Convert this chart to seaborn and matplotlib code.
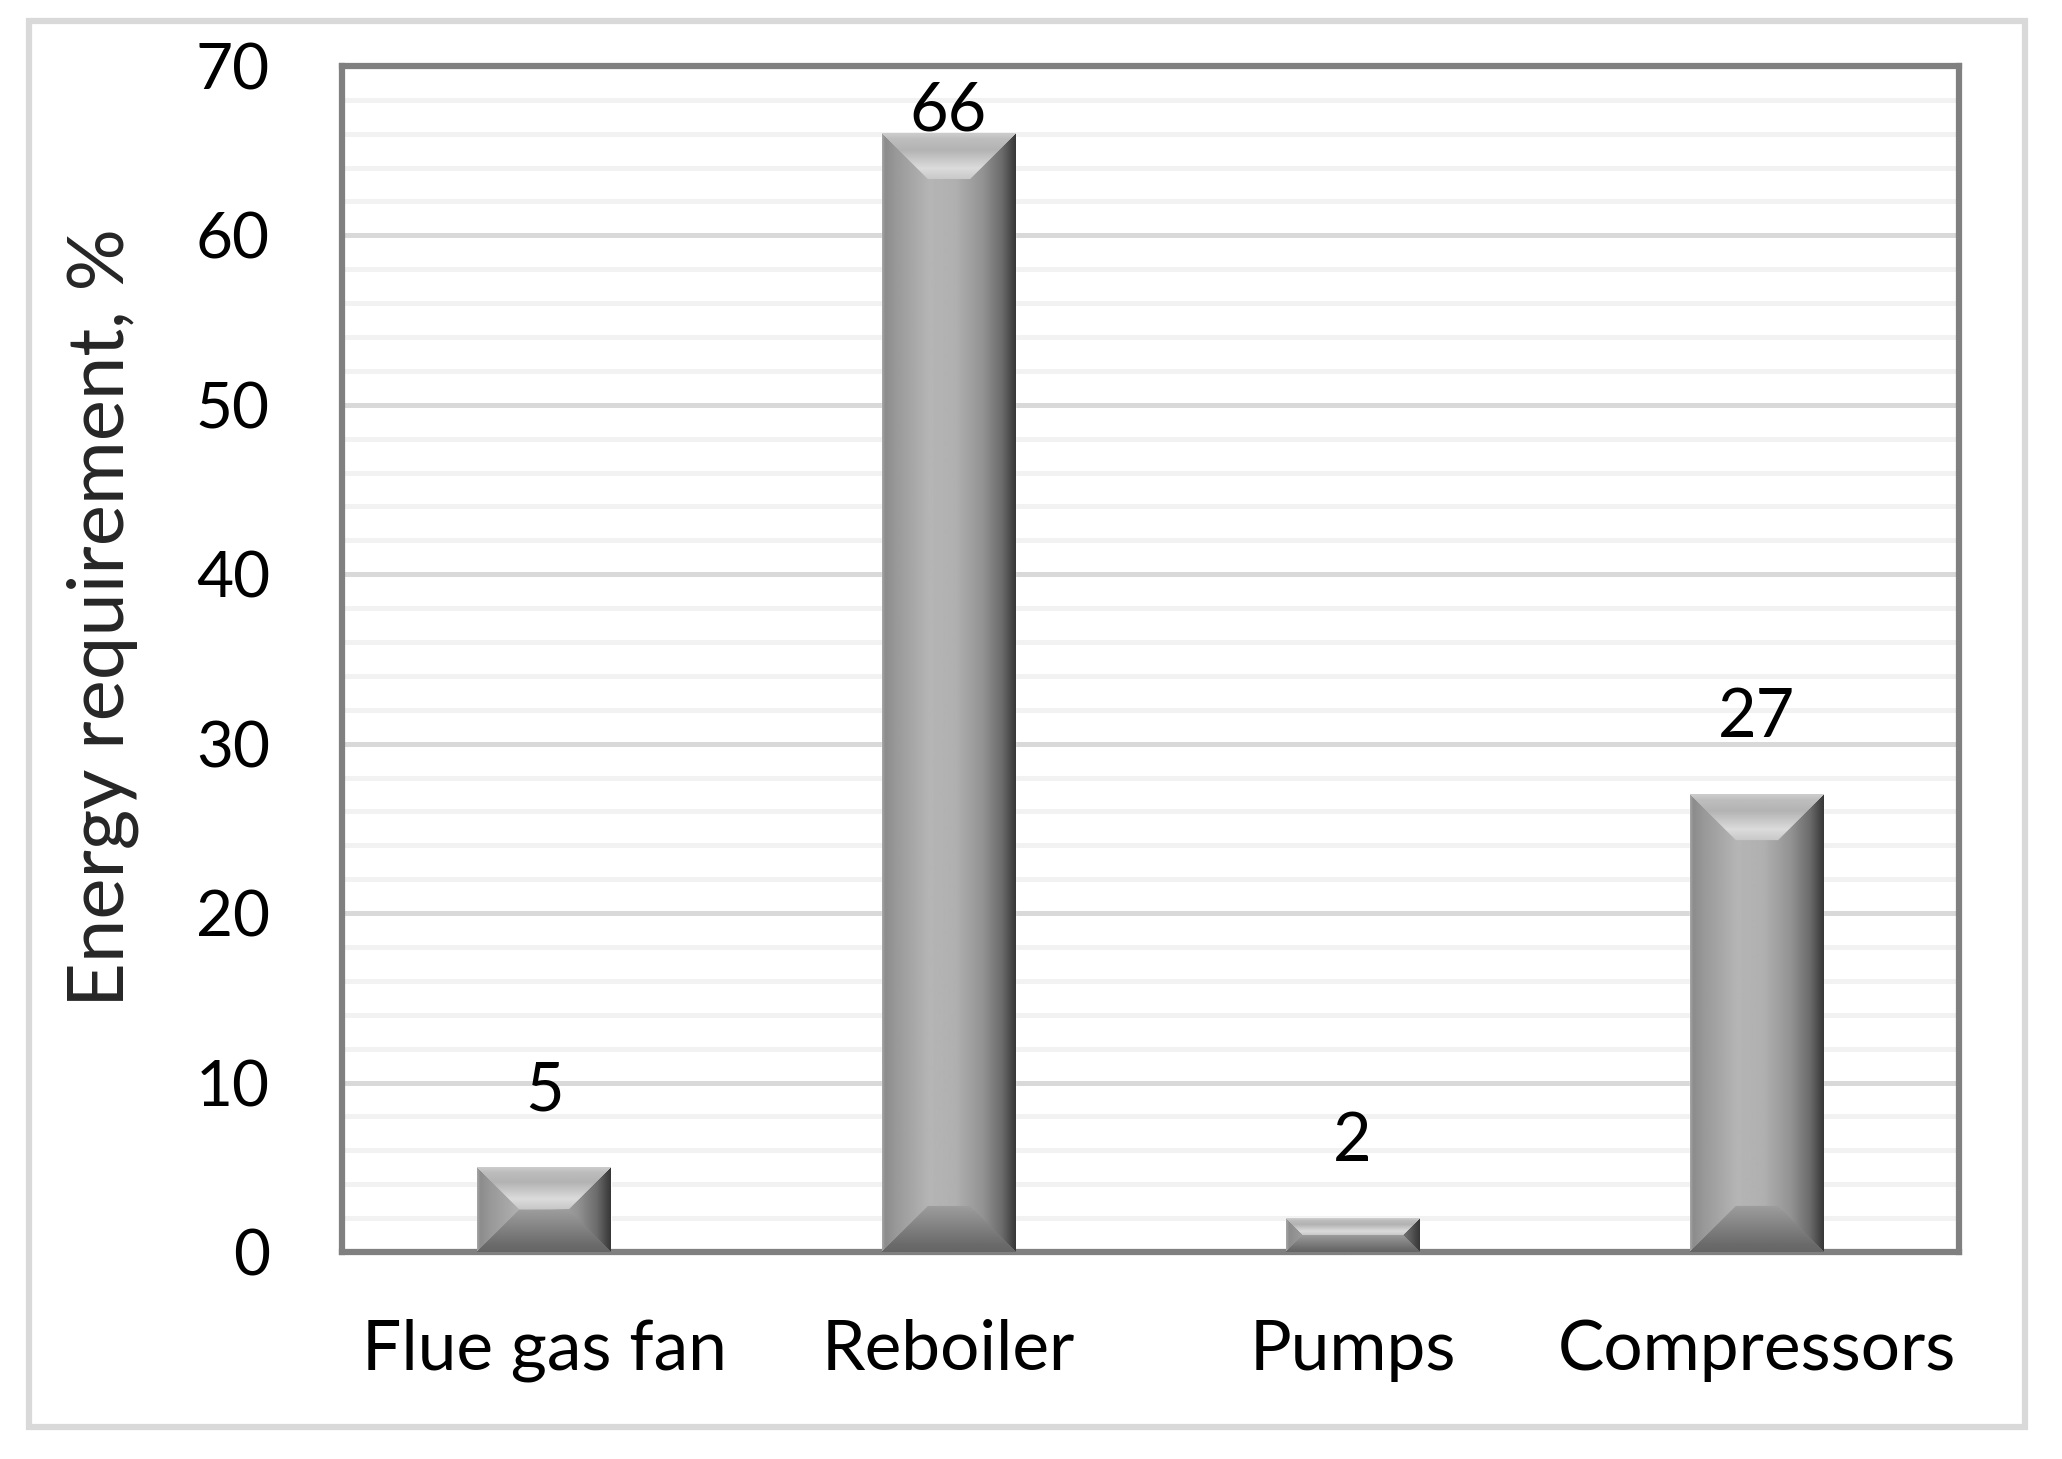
import numpy as np
import pandas as pd
import matplotlib
matplotlib.use("Agg")
import matplotlib.pyplot as plt
import seaborn as sns
from matplotlib.patches import Rectangle
from matplotlib.ticker import MultipleLocator

# Données du graphique
categories = ["Flue gas fan", "Reboiler", "Pumps", "Compressors"]
energy_share = [5, 66, 2, 27]
y_label = "Energy requirement, %"

df = pd.DataFrame({"item": categories, "share": energy_share})

sns.set_theme(style="white")
plt.rcParams["font.family"] = ["Lato", "DejaVu Sans"]

fig = plt.figure(figsize=(20.62, 14.59), dpi=100)
ax = fig.add_axes([0.1659, 0.1419, 0.950 - 0.1659, 0.9548 - 0.1419])

sns.barplot(data=df, x="item", y="share", color="#a8a8a8", width=0.33,
            saturation=1, ax=ax, zorder=2)

ax.set_ylim(0, 70)
ax.set_xlim(-0.5, len(categories) - 0.5)
ax.yaxis.set_major_locator(MultipleLocator(10))
ax.yaxis.set_minor_locator(MultipleLocator(2))
ax.set_axisbelow(True)
ax.grid(which="minor", axis="y", color="#f2f2f2", linewidth=3.6)
ax.grid(which="major", axis="y", color="#d9d9d9", linewidth=3.6)

for s in ax.spines.values():
    s.set_color("#808080")
    s.set_linewidth(4.5)
    s.set_visible(True)

ax.tick_params(axis="both", which="both", length=0, colors="black")
ax.tick_params(axis="y", labelsize=46, pad=52)
ax.tick_params(axis="x", labelsize=50, pad=48)
ax.set_xlabel("")
ax.set_ylabel(y_label, fontsize=56, va="center")
ax.yaxis.set_label_coords(-0.148, 0.535)


# Effet biseau façon Excel sur chaque barre
def bevel_image(h, w, bev=46):
    b = max(1, min(bev, h // 2, w // 2))
    t = np.linspace(0, 1, w)
    base = np.interp(t, [0, 0.02, 0.1, 0.35, 0.55, 0.75, 0.9, 0.96, 1.0],
                     [0.64, 0.55, 0.60, 0.71, 0.69, 0.58, 0.42, 0.30, 0.22])
    img = np.tile(base, (h, 1))
    ii, jj = np.mgrid[0:h, 0:w]
    dt, db = ii, h - 1 - ii
    dl, dr = jj, w - 1 - jj
    dmin = np.minimum(np.minimum(dt, db), np.minimum(dl, dr))
    edge = dmin < b
    top = edge & (dt == dmin)
    bot = edge & (db == dmin) & ~top
    u = dt / b
    img[top] = np.interp(u[top], [0, 0.12, 0.35, 0.75, 1.0], [0.80, 0.74, 0.70, 0.86, 0.78])
    v = db / b
    img[bot] = np.interp(v[bot], [0, 0.15, 1.0], [0.40, 0.42, 0.62])
    return np.clip(img, 0, 1)


fig.canvas.draw()
for p in list(ax.patches):
    x0, w, hgt = p.get_x(), p.get_width(), p.get_height()
    (px0, py0), (px1, py1) = ax.transData.transform([(x0, 0), (x0 + w, hgt)])
    wp, hp = int(round(px1 - px0)), int(round(py1 - py0))
    img = bevel_image(max(hp, 2), max(wp, 2))
    ax.imshow(img, cmap="gray", vmin=0, vmax=1, extent=(x0, x0 + w, 0, hgt),
              aspect="auto", zorder=3, interpolation="bilinear")

ax.set_xlim(-0.5, len(categories) - 0.5)
ax.set_ylim(0, 70)

# Étiquettes de valeurs (restent dans la zone de tracé)
for i, v in enumerate(energy_share):
    ax.text(i, min(v + 4.5, 67.3), str(v), ha="center", va="center",
            fontsize=48, color="black", zorder=4)

# Cadre extérieur du graphique
fig.add_artist(Rectangle((0.0141, 0.0219), 0.982 - 0.0141, 0.9856 - 0.0219,
                         transform=fig.transFigure, fill=False,
                         edgecolor="#d9d9d9", linewidth=4.5))

fig.savefig("out.png", dpi=100)
